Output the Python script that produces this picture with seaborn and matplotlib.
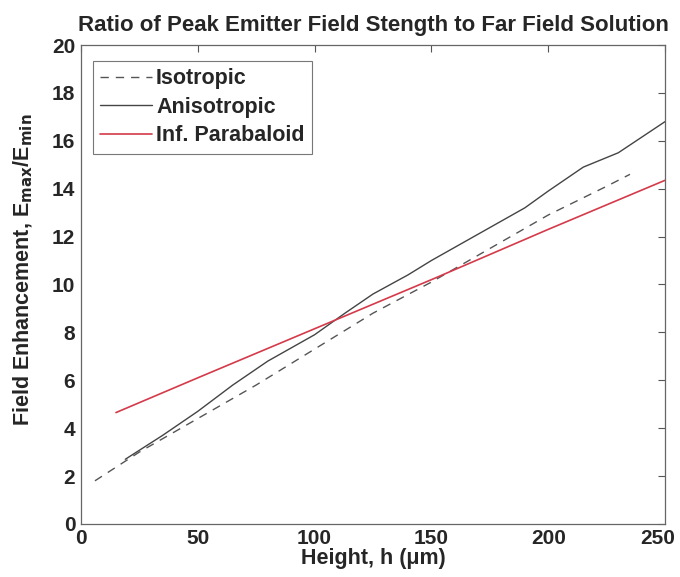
import numpy as np
import pandas as pd
import seaborn as sns
import matplotlib.pyplot as plt
import matplotlib.transforms as mtransforms

# values
iso_h = [6, 25, 50, 75, 100, 125, 150, 175, 200, 225, 235]
iso_e = [1.8, 3.0, 4.4, 5.8, 7.3, 8.8, 10.1, 11.5, 12.9, 14.1, 14.6]

aniso_h = [19, 35, 50, 65, 80, 100, 113, 125, 140, 150, 170, 190, 200, 215, 230, 250]
aniso_e = [2.7, 3.7, 4.7, 5.8, 6.8, 7.9, 8.8, 9.6, 10.4, 11.0, 12.1, 13.2, 13.9, 14.9, 15.5, 16.8]

para_h = [15, 50, 100, 150, 200, 250]
para_e = [4.65, 6.1, 8.15, 10.2, 12.3, 14.35]

sns.set_style("white")
plt.rcParams['font.family'] = ['Liberation Sans', 'DejaVu Sans']
plt.rcParams['font.weight'] = 'bold'

fig = plt.figure(figsize=(6.8, 5.77), dpi=100)
ax = fig.add_axes([0.119, 0.092, 0.859, 0.83])

sns.lineplot(x=iso_h, y=iso_e, ax=ax, color='#555555', lw=1.0, linestyle=(0, (6, 5)), label='Isotropic')
sns.lineplot(x=aniso_h, y=aniso_e, ax=ax, color='#444444', lw=1.0, label='Anisotropic')
sns.lineplot(x=para_h, y=para_e, ax=ax, color='#d43a4a', lw=1.2, label='Inf. Parabaloid')

ax.set_xlim(0, 250)
ax.set_ylim(0, 20)
ax.set_xticks(np.arange(0, 251, 50))
ax.set_yticks(np.arange(0, 21, 2))
ax.tick_params(direction='in', top=True, right=True, length=5, labelsize=15, width=0.8, color='#555555', pad=4)
for s in ax.spines.values():
    s.set_color('#666666')
    s.set_linewidth(0.9)

# last x tick label sits a bit left of its tick, as in the original
last = ax.get_xticklabels()[-1]
last.set_transform(last.get_transform() + mtransforms.ScaledTranslation(-7 / 100, 0, fig.dpi_scale_trans))

ax.set_xlabel('Height, h (\u03bcm)', fontsize=15.5, fontweight='bold', labelpad=0)
ax.set_ylabel('Field Enhancement, E$_{\\mathbf{max}}$/E$_{\\mathbf{min}}$', fontsize=15.5, fontweight='bold', labelpad=4)
ax.yaxis.set_label_coords(-0.078, 0.53)
ax.set_title('Ratio of Peak Emitter Field Stength to Far Field Solution', fontsize=16, fontweight='bold', pad=10)

leg = ax.legend(loc='upper left', bbox_to_anchor=(0.02, 0.967), fontsize=15.5, frameon=True,
                fancybox=False, edgecolor='#555555', handlelength=2.4, handletextpad=0.2,
                borderpad=0.35, labelspacing=0.35, borderaxespad=0)
leg.get_frame().set_linewidth(0.8)

fig.savefig('out.png', dpi=100)
